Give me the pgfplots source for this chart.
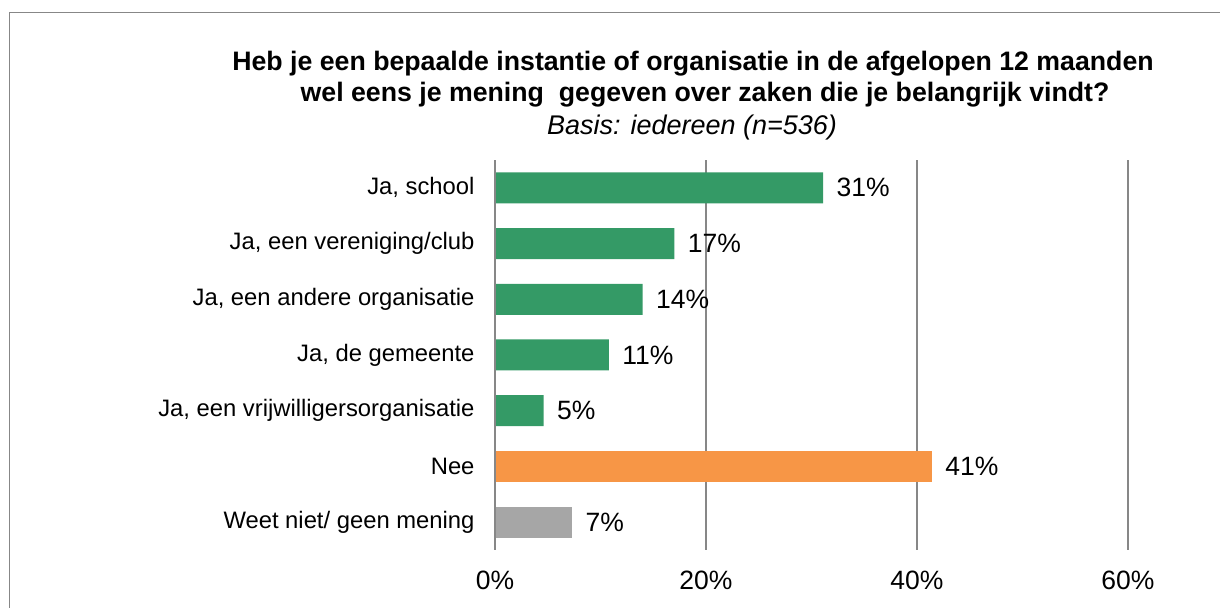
\documentclass[border=0pt]{standalone}
\usepackage{fontspec}
\setmainfont{Liberation Sans}
\usepackage{pgfplots}
\pgfplotsset{compat=1.18}
\definecolor{barGreen}{HTML}{349A66}
\definecolor{barOrange}{HTML}{F79646}
\definecolor{barGray}{HTML}{A6A6A6}
\definecolor{gridGray}{HTML}{878787}
\begin{document}
\begin{tikzpicture}[x=1bp,y=1bp]
\path[use as bounding box] (0,0) rectangle (1220,608);
\draw[gridGray,line width=1.5bp] (9.5,-5) -- (9.5,595.5) -- (1230,595.5);
\node[anchor=base,font=\bfseries\fontsize{26.7bp}{30bp}\selectfont] at (693,537) {Heb je een bepaalde instantie of organisatie in de afgelopen 12 maanden};
\node[anchor=base,font=\bfseries\fontsize{26.7bp}{30bp}\selectfont] at (705,506) {wel eens je mening \ gegeven over zaken die je belangrijk vindt?};
\node[anchor=base,font=\itshape\fontsize{27bp}{30bp}\selectfont] at (692,473) {Basis: iedereen (n=536)};
\begin{axis}[
  at={(495bp,58bp)}, anchor=south west,
  scale only axis, width=633bp, height=390bp,
  xbar, bar width=31bp, bar shift=0pt,
  xmin=0, xmax=60, ymin=-0.5, ymax=6.5,
  axis line style={draw=none},
  xmajorgrids, grid style={gridGray,line width=1.5bp},
  xtick={0,20,40,60}, xticklabels={0\%,20\%,40\%,60\%},
  ytick={0,1,2,3,4,5,6},
  yticklabels={Weet niet/ geen mening,Nee,{Ja, een vrijwilligersorganisatie},{Ja, de gemeente},{Ja, een andere organisatie},{Ja, een vereniging/club},{Ja, school}},
  major tick length=0pt,
  yticklabel style={font=\fontsize{23.8bp}{28bp}\selectfont, xshift=-17bp},
  xticklabel style={font=\fontsize{26.5bp}{30bp}\selectfont, yshift=-17bp},
  /pgf/number format/assume math mode=true,
  nodes near coords={\pgfmathprintnumber[fixed,precision=0,assume math mode=true]{\pgfplotspointmeta}\%},
  nodes near coords style={font=\fontsize{26.5bp}{30bp}\selectfont, anchor=west, xshift=10bp},
  clip=false,
]
\addplot[draw=none, fill=barGreen] coordinates {(31.1,6) (17.0,5) (14.0,4) (10.8,3) (4.6,2)};
\addplot[draw=none, fill=barOrange] coordinates {(41.4,1)};
\addplot[draw=none, fill=barGray] coordinates {(7.3,0)};
\draw[gridGray,line width=1.5bp] (axis cs:0,-0.5) -- (axis cs:0,6.5);
\end{axis}
\end{tikzpicture}
\end{document}
